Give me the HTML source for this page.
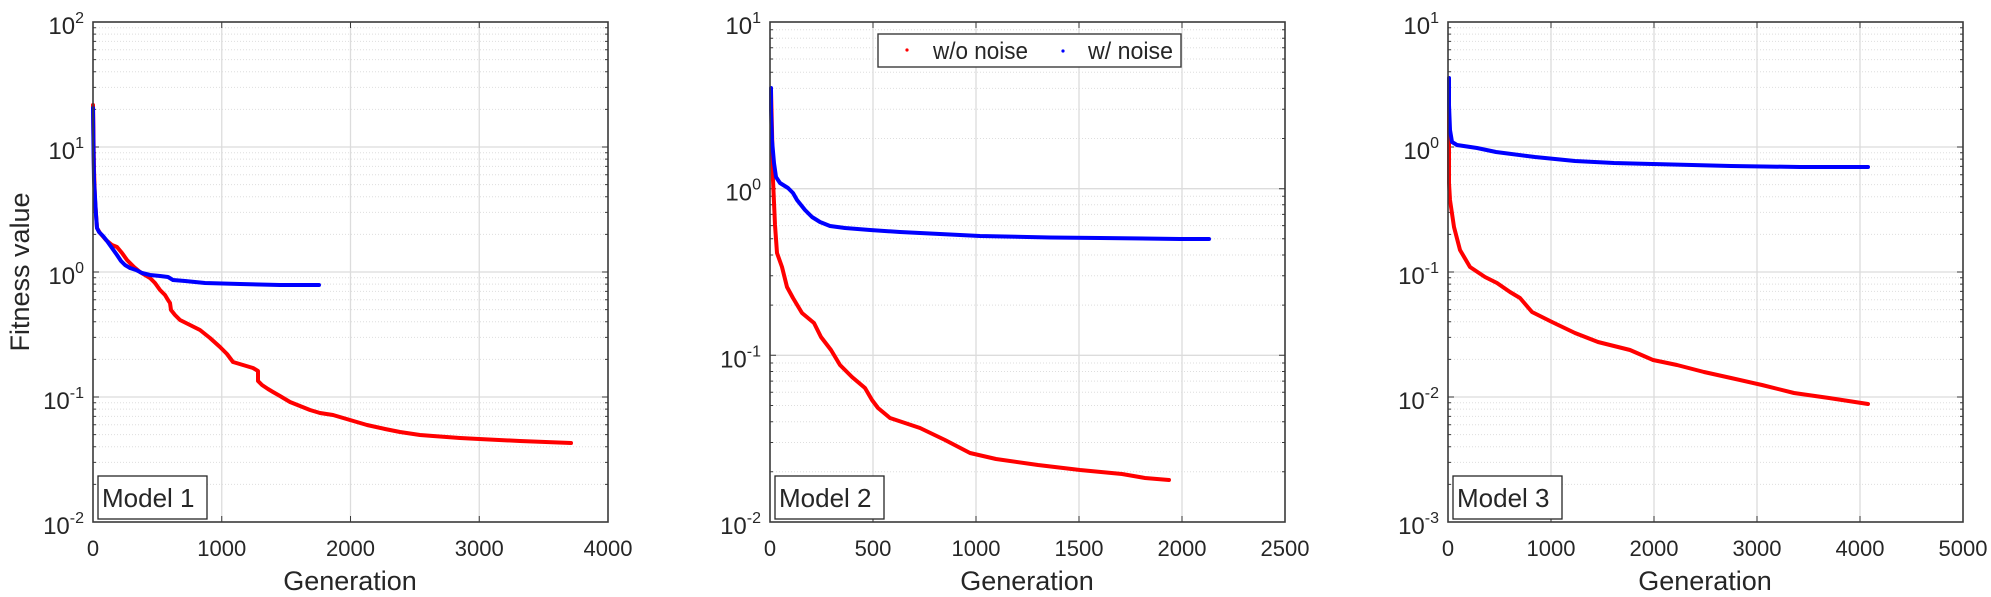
<!DOCTYPE html>
<html>
<head>
<meta charset="utf-8">
<style>
html,body{margin:0;padding:0;background:#fff;}
svg{display:block;}
text{font-family:"Liberation Sans",Arial,sans-serif;fill:#262626;}
</style>
</head>
<body>
<svg width="1991" height="597" viewBox="0 0 1991 597" xmlns="http://www.w3.org/2000/svg">
<defs>
<path id="minor4" d="M0 27.7h515M0 34.1h515M0 41.4h515M0 49.7h515M0 59.6h515M0 71.7h515M0 87.4h515M0 109.4h515M0 152.7h515M0 159.1h515M0 166.4h515M0 174.7h515M0 184.6h515M0 196.7h515M0 212.4h515M0 234.4h515M0 277.7h515M0 284.1h515M0 291.4h515M0 299.7h515M0 309.6h515M0 321.7h515M0 337.4h515M0 359.4h515M0 402.7h515M0 409.1h515M0 416.4h515M0 424.7h515M0 434.6h515M0 446.7h515M0 462.4h515M0 484.4h515"/>
<path id="minor3" d="M0 29.7h515M0 38.2h515M0 47.8h515M0 59h515M0 72.2h515M0 88.4h515M0 109.2h515M0 138.5h515M0 196.3h515M0 204.8h515M0 214.4h515M0 225.6h515M0 238.8h515M0 255h515M0 275.8h515M0 305.1h515M0 363h515M0 371.5h515M0 381.1h515M0 392.3h515M0 405.5h515M0 421.7h515M0 442.5h515M0 471.8h515"/>
<path id="ticks4" d="M0 27.7h3M515 27.7h-3M0 34.1h3M515 34.1h-3M0 41.4h3M515 41.4h-3M0 49.7h3M515 49.7h-3M0 59.6h3M515 59.6h-3M0 71.7h3M515 71.7h-3M0 87.4h3M515 87.4h-3M0 109.4h3M515 109.4h-3M0 152.7h3M515 152.7h-3M0 159.1h3M515 159.1h-3M0 166.4h3M515 166.4h-3M0 174.7h3M515 174.7h-3M0 184.6h3M515 184.6h-3M0 196.7h3M515 196.7h-3M0 212.4h3M515 212.4h-3M0 234.4h3M515 234.4h-3M0 277.7h3M515 277.7h-3M0 284.1h3M515 284.1h-3M0 291.4h3M515 291.4h-3M0 299.7h3M515 299.7h-3M0 309.6h3M515 309.6h-3M0 321.7h3M515 321.7h-3M0 337.4h3M515 337.4h-3M0 359.4h3M515 359.4h-3M0 402.7h3M515 402.7h-3M0 409.1h3M515 409.1h-3M0 416.4h3M515 416.4h-3M0 424.7h3M515 424.7h-3M0 434.6h3M515 434.6h-3M0 446.7h3M515 446.7h-3M0 462.4h3M515 462.4h-3M0 484.4h3M515 484.4h-3M0 147h6M515 147h-6M0 272h6M515 272h-6M0 397h6M515 397h-6"/>
<path id="ticks3" d="M0 29.7h3M515 29.7h-3M0 38.2h3M515 38.2h-3M0 47.8h3M515 47.8h-3M0 59h3M515 59h-3M0 72.2h3M515 72.2h-3M0 88.4h3M515 88.4h-3M0 109.2h3M515 109.2h-3M0 138.5h3M515 138.5h-3M0 196.3h3M515 196.3h-3M0 204.8h3M515 204.8h-3M0 214.4h3M515 214.4h-3M0 225.6h3M515 225.6h-3M0 238.8h3M515 238.8h-3M0 255h3M515 255h-3M0 275.8h3M515 275.8h-3M0 305.1h3M515 305.1h-3M0 363h3M515 363h-3M0 371.5h3M515 371.5h-3M0 381.1h3M515 381.1h-3M0 392.3h3M515 392.3h-3M0 405.5h3M515 405.5h-3M0 421.7h3M515 421.7h-3M0 442.5h3M515 442.5h-3M0 471.8h3M515 471.8h-3M0 188.7h6M515 188.7h-6M0 355.3h6M515 355.3h-6"/>
</defs>

<!-- ================= PANEL 1 ================= -->
<g>
  <use href="#minor4" x="93" y="0" stroke="#dedede" stroke-width="1" stroke-dasharray="1 2" fill="none"/>
  <path d="M93 147H608M93 272H608M93 397H608M221.75 22V522M350.5 22V522M479.25 22V522" stroke="#dcdcdc" stroke-width="1.3" fill="none"/>
  <use href="#ticks4" x="93" y="0" stroke="#3a3a3a" stroke-width="1" fill="none"/>
  <path d="M221.75 522v-6M350.5 522v-6M479.25 522v-6M221.75 22v6M350.5 22v6M479.25 22v6" stroke="#3a3a3a" stroke-width="1" fill="none"/>

  <polyline fill="none" stroke="#ff0000" stroke-width="4" stroke-linejoin="round" stroke-linecap="round"
   points="93,105 94,170 95,200 97,228 100,233 106,240 112,245 117,247 122,253 127,260 134,267 140,272 145,275 150,278 155,283 160,290 165,295 168,300 170,303 171,310 175,315 180,320 190,325 200,330 210,338 220,347 227,354 233,362 243,365 253,368 258,371 258,381 262,385 268,389 273,392 280,396 290,402 300,406 310,410 320,413 333,415 350,420 367,425 385,429 400,432 420,435 433,436 460,438 479,439 520,441 571,443"/>
  <polyline fill="none" stroke="#0000ff" stroke-width="4" stroke-linejoin="round" stroke-linecap="round"
   points="93,108 93.5,150 94,180 95,197 96,215 97,228 99,232 103,236 107,241 112,248 117,255 121,261 125,265 130,268 136,270 142,273 150,275 160,276 168,277 173,280 185,281 205,283 240,284 280,285 319,285"/>

  <rect x="93" y="22" width="515" height="500" fill="none" stroke="#3a3a3a" stroke-width="1.6"/>

  <rect x="98" y="476" width="109" height="43" fill="#fff" stroke="#262626" stroke-width="1.3"/>
  <text x="102" y="507" font-size="26">Model 1</text>

  <g font-size="24" text-anchor="end">
    <text x="84" y="34">10<tspan dy="-11" font-size="16">2</tspan></text>
    <text x="84" y="159">10<tspan dy="-11" font-size="16">1</tspan></text>
    <text x="84" y="284">10<tspan dy="-11" font-size="16">0</tspan></text>
    <text x="84" y="409">10<tspan dy="-11" font-size="16">-1</tspan></text>
    <text x="84" y="534">10<tspan dy="-11" font-size="16">-2</tspan></text>
  </g>
  <g font-size="22" text-anchor="middle">
    <text x="93" y="556">0</text>
    <text x="221.75" y="556">1000</text>
    <text x="350.5" y="556">2000</text>
    <text x="479.25" y="556">3000</text>
    <text x="608" y="556">4000</text>
  </g>
  <text x="350" y="590" font-size="27" text-anchor="middle">Generation</text>
  <text transform="translate(29,272) rotate(-90)" font-size="27" text-anchor="middle">Fitness value</text>
</g>

<!-- ================= PANEL 2 ================= -->
<g>
  <use href="#minor3" x="770" y="0" stroke="#dedede" stroke-width="1" stroke-dasharray="1 2" fill="none"/>
  <path d="M770 188.7H1285M770 355.3H1285M873 22V522M976 22V522M1079 22V522M1182 22V522" stroke="#dcdcdc" stroke-width="1.3" fill="none"/>
  <use href="#ticks3" x="770" y="0" stroke="#3a3a3a" stroke-width="1" fill="none"/>
  <path d="M873 522v-6M976 522v-6M1079 522v-6M1182 522v-6M873 22v6M976 22v6M1079 22v6M1182 22v6" stroke="#3a3a3a" stroke-width="1" fill="none"/>

  <polyline fill="none" stroke="#ff0000" stroke-width="4" stroke-linejoin="round" stroke-linecap="round"
   points="771,90 772,130 773,180 775,225 777,253 782,267 787,287 793,298 802,313 808,318 814,323 821,337 831,350 840,365 852,377 865,388 872,400 878,408 890,418 905,423 920,428 945,440 970,453 996,459 1038,465 1080,470 1122,474 1145,478 1169,480"/>
  <polyline fill="none" stroke="#0000ff" stroke-width="4" stroke-linejoin="round" stroke-linecap="round"
   points="771,88 771,110 772,140 774,163 776,177 780,183 788,188 793,193 797,200 801,205 805,210 812,217 820,222 830,226 845,228 870,230 900,232 940,234 980,236 1050,237.5 1100,238 1180,239 1209,239"/>

  <rect x="770" y="22" width="515" height="500" fill="none" stroke="#3a3a3a" stroke-width="1.6"/>

  <rect x="775" y="476" width="109" height="43" fill="#fff" stroke="#262626" stroke-width="1.3"/>
  <text x="779" y="507" font-size="26">Model 2</text>

  <rect x="878" y="34" width="303" height="33" fill="#fff" stroke="#3a3a3a" stroke-width="1.4"/>
  <circle cx="907" cy="50" r="1.6" fill="#ff0000"/>
  <text x="933" y="59" font-size="24" textLength="95" lengthAdjust="spacingAndGlyphs">w/o noise</text>
  <circle cx="1063" cy="51" r="1.6" fill="#0000ff"/>
  <text x="1088" y="59" font-size="24" textLength="85" lengthAdjust="spacingAndGlyphs">w/ noise</text>

  <g font-size="24" text-anchor="end">
    <text x="761" y="34">10<tspan dy="-11" font-size="16">1</tspan></text>
    <text x="761" y="200.7">10<tspan dy="-11" font-size="16">0</tspan></text>
    <text x="761" y="367.3">10<tspan dy="-11" font-size="16">-1</tspan></text>
    <text x="761" y="534">10<tspan dy="-11" font-size="16">-2</tspan></text>
  </g>
  <g font-size="22" text-anchor="middle">
    <text x="770" y="556">0</text>
    <text x="873" y="556">500</text>
    <text x="976" y="556">1000</text>
    <text x="1079" y="556">1500</text>
    <text x="1182" y="556">2000</text>
    <text x="1285" y="556">2500</text>
  </g>
  <text x="1027" y="590" font-size="27" text-anchor="middle">Generation</text>
</g>

<!-- ================= PANEL 3 ================= -->
<g>
  <use href="#minor4" x="1448" y="0" stroke="#dedede" stroke-width="1" stroke-dasharray="1 2" fill="none"/>
  <path d="M1448 147H1963M1448 272H1963M1448 397H1963M1551 22V522M1654 22V522M1757 22V522M1860 22V522" stroke="#dcdcdc" stroke-width="1.3" fill="none"/>
  <use href="#ticks4" x="1448" y="0" stroke="#3a3a3a" stroke-width="1" fill="none"/>
  <path d="M1551 522v-6M1654 522v-6M1757 522v-6M1860 522v-6M1551 22v6M1654 22v6M1757 22v6M1860 22v6" stroke="#3a3a3a" stroke-width="1" fill="none"/>

  <polyline fill="none" stroke="#ff0000" stroke-width="4" stroke-linejoin="round" stroke-linecap="round"
   points="1449,93 1449,150 1449,183 1450,200 1454,227 1460,250 1470,267 1485,277 1497,283 1510,292 1520,298 1532,312 1552,322 1575,333 1598,342 1630,350 1653,360 1677,365 1704,372 1731,378 1762,385 1794,393 1829,398 1868,404"/>
  <polyline fill="none" stroke="#0000ff" stroke-width="4" stroke-linejoin="round" stroke-linecap="round"
   points="1449,78 1449,105 1450,130 1452,142 1457,145 1477,148 1496,152 1535,157 1575,161 1614,163 1653,164 1731,166 1800,167 1868,167"/>

  <rect x="1448" y="22" width="515" height="500" fill="none" stroke="#3a3a3a" stroke-width="1.6"/>

  <rect x="1453" y="476" width="109" height="43" fill="#fff" stroke="#262626" stroke-width="1.3"/>
  <text x="1457" y="507" font-size="26">Model 3</text>

  <g font-size="24" text-anchor="end">
    <text x="1439" y="34">10<tspan dy="-11" font-size="16">1</tspan></text>
    <text x="1439" y="159">10<tspan dy="-11" font-size="16">0</tspan></text>
    <text x="1439" y="284">10<tspan dy="-11" font-size="16">-1</tspan></text>
    <text x="1439" y="409">10<tspan dy="-11" font-size="16">-2</tspan></text>
    <text x="1439" y="534">10<tspan dy="-11" font-size="16">-3</tspan></text>
  </g>
  <g font-size="22" text-anchor="middle">
    <text x="1448" y="556">0</text>
    <text x="1551" y="556">1000</text>
    <text x="1654" y="556">2000</text>
    <text x="1757" y="556">3000</text>
    <text x="1860" y="556">4000</text>
    <text x="1963" y="556">5000</text>
  </g>
  <text x="1705" y="590" font-size="27" text-anchor="middle">Generation</text>
</g>
</svg>
</body>
</html>
